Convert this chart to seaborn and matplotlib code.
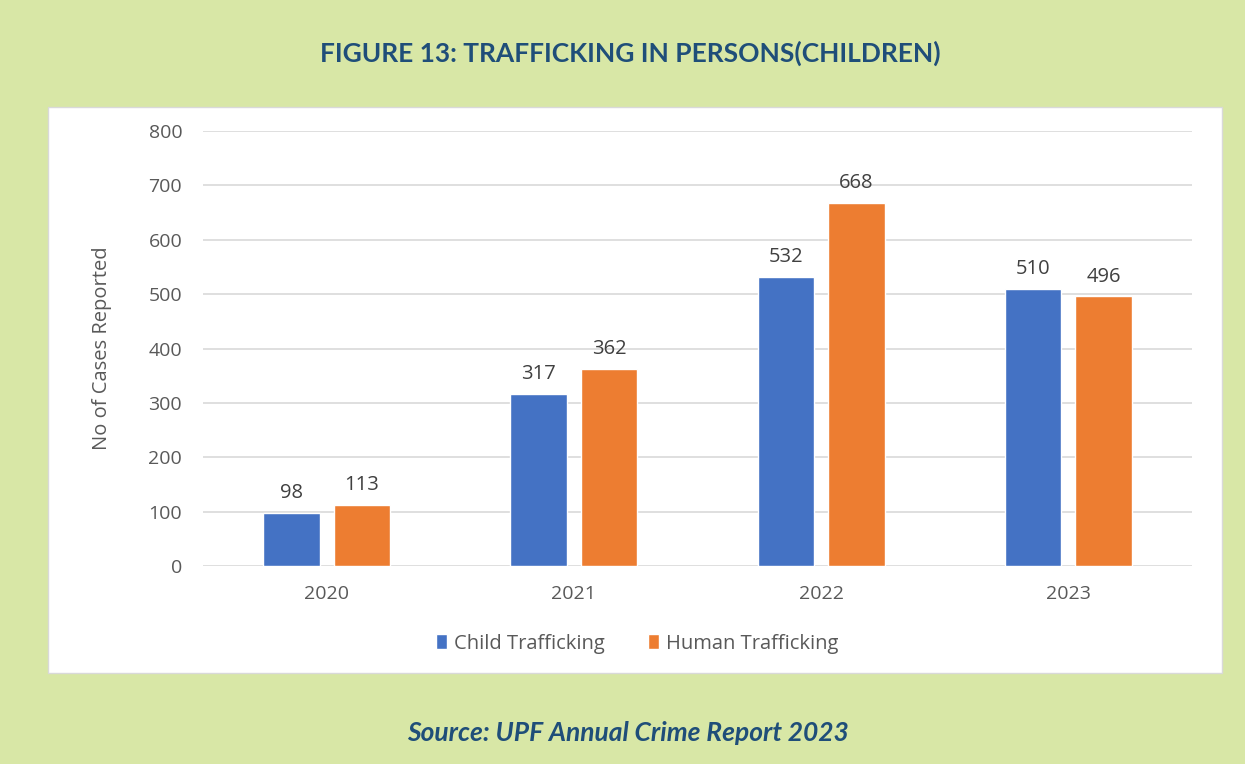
import matplotlib
matplotlib.use("Agg")
import matplotlib.pyplot as plt
from matplotlib.patches import Rectangle
import pandas as pd
import seaborn as sns

# Data
years = ["2020", "2021", "2022", "2023"]
child_trafficking = [98, 317, 532, 510]
human_trafficking = [113, 362, 668, 496]
series_names = ["Child Trafficking", "Human Trafficking"]
y_ticks = [0, 100, 200, 300, 400, 500, 600, 700, 800]

df = pd.DataFrame({
    "Year": years * 2,
    "Cases": child_trafficking + human_trafficking,
    "Series": [series_names[0]] * len(years) + [series_names[1]] * len(years),
})

sns.set_theme(style="white")
plt.rcParams["font.family"] = ["Open Sans", "DejaVu Sans"]

BG = "#d8e7a6"
NAVY = "#1f4e79"
GREY = "#595959"
palette = {series_names[0]: "#4472c4", series_names[1]: "#ed7d31"}

fig = plt.figure(figsize=(12.45, 7.64), dpi=100)
fig.patch.set_facecolor(BG)

# White chart panel
fig.patches.append(Rectangle((48 / 1245, 1 - 673 / 764), (1222 - 48) / 1245, (673 - 107) / 764,
                             transform=fig.transFigure, facecolor="white",
                             edgecolor="#d9d9d9", linewidth=1.0, zorder=-1))

ax = fig.add_axes([203 / 1245, 1 - 566 / 764, (1192 - 203) / 1245, (566 - 131) / 764])
ax.set_facecolor("none")
ax.set_zorder(2)

sns.barplot(data=df, x="Year", y="Cases", hue="Series", order=years,
            hue_order=series_names, palette=palette, width=0.57, gap=0.2,
            saturation=1, ax=ax, legend=True)

ax.set_ylim(0, 800)
ax.set_yticks(y_ticks)
ax.set_xlim(-0.5, 3.5)
ax.grid(axis="y", color="#d9d9d9", linewidth=1.2)
ax.set_axisbelow(True)
for s in ax.spines.values():
    s.set_visible(False)
ax.tick_params(axis="both", length=0, labelsize=14, labelcolor=GREY)
ax.tick_params(axis="y", pad=15)
ax.tick_params(axis="x", pad=14)
ax.set_xlabel("")
ax.set_ylabel("No of Cases Reported", fontsize=14.5, color=GREY, labelpad=26)

for container in ax.containers:
    ax.bar_label(container, fmt="%d", padding=7, fontsize=14.5, color="#404040")

leg = ax.legend(loc="upper center", bbox_to_anchor=(0.439, -0.114), ncol=2, frameon=False,
                fontsize=14.5, handlelength=0.55, handleheight=0.8, handletextpad=0.35,
                columnspacing=2.1)
for t in leg.get_texts():
    t.set_color(GREY)

fig.text(630 / 1245, 1 - 53 / 764, "FIGURE 13: TRAFFICKING IN PERSONS(CHILDREN)",
         ha="center", va="center", fontsize=19, fontweight="bold", color=NAVY,
         family=["Lato", "DejaVu Sans"])
fig.text(628 / 1245, 1 - 733 / 764, "Source: UPF Annual Crime Report 2023",
         ha="center", va="center", fontsize=19, fontweight="bold", style="italic",
         color=NAVY, family=["Lato", "DejaVu Sans"])

fig.savefig("out.png", dpi=100, facecolor=fig.get_facecolor())
